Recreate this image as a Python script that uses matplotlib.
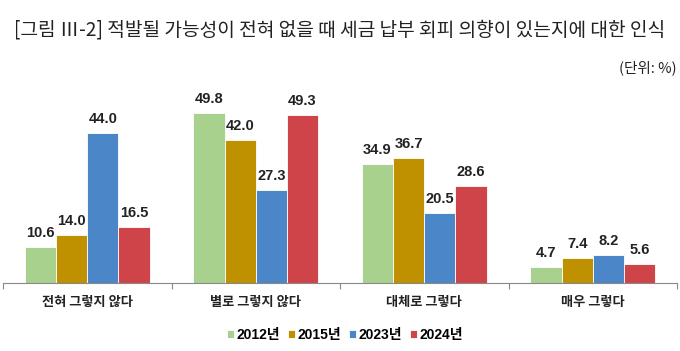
import numpy as np
import matplotlib
matplotlib.use('Agg')
import matplotlib.pyplot as plt

plt.rcParams['font.family'] = ['Noto Sans CJK KR', 'DejaVu Sans']
num_font = ['Liberation Sans', 'Noto Sans CJK KR']

# data
categories = ['전혀 그렇지 않다', '별로 그렇지 않다', '대체로 그렇다', '매우 그렇다']
years = ['2012년', '2015년', '2023년', '2024년']
v2012 = [10.6, 49.8, 34.9, 4.7]
v2015 = [14.0, 42.0, 36.7, 7.4]
v2023 = [44.0, 27.3, 20.5, 8.2]
v2024 = [16.5, 49.3, 28.6, 5.6]
series = [v2012, v2015, v2023, v2024]
colors = ['#A9D18E', '#BF9000', '#4A86C8', '#CF4448']

fig = plt.figure(figsize=(6.8, 3.51), dpi=100)
ax = fig.add_axes([3 / 680, 68 / 351, 674 / 680, 187.5 / 351])

x = np.arange(len(categories))
w = 0.185
for i, (vals, c) in enumerate(zip(series, colors)):
    pos = x + (i - 1.5) * w
    ax.bar(pos, vals, width=w, color=c, edgecolor='white', linewidth=0.6,
           label=years[i], zorder=2)
    for px, v in zip(pos, vals):
        ax.text(px, v + 2.0, f'{v:.1f}', ha='center', va='bottom',
                fontsize=10.5, fontweight='bold', color='#222222', family=num_font)

ax.set_xlim(-0.5, len(categories) - 0.5)
ax.set_ylim(0, 55)
ax.set_yticks([])
for s in ['top', 'right', 'left']:
    ax.spines[s].set_visible(False)
ax.spines['bottom'].set_color('#888888')
ax.set_xticks(np.arange(-0.5, len(categories), 1), minor=False)
ax.set_xticklabels([])
ax.tick_params(axis='x', length=4, color='#888888')
for i, cat in enumerate(categories):
    ax.text(i, -5.5, cat, ha='center', va='center', fontsize=9.5,
            fontweight='bold', color='#222222')

fig.text(340 / 680, 1 - 30 / 351, '[그림 Ⅲ-2] 적발될 가능성이 전혀 없을 때 세금 납부 회피 의향이 있는지에 대한 인식',
         ha='center', va='center', fontsize=13.8, color='#222222')
fig.text(677 / 680, 1 - 68 / 351, '(단위: %)', ha='right', va='center',
         fontsize=10.5, color='#222222')

leg = fig.legend(loc='center', bbox_to_anchor=(345 / 680, 1 - 335 / 351), ncol=4,
                 frameon=False, handlelength=0.5, handleheight=0.5,
                 handletextpad=0.2, columnspacing=0.55,
                 prop={'family': num_font, 'size': 10, 'weight': 'bold'})

fig.savefig('out.png', dpi=100)
